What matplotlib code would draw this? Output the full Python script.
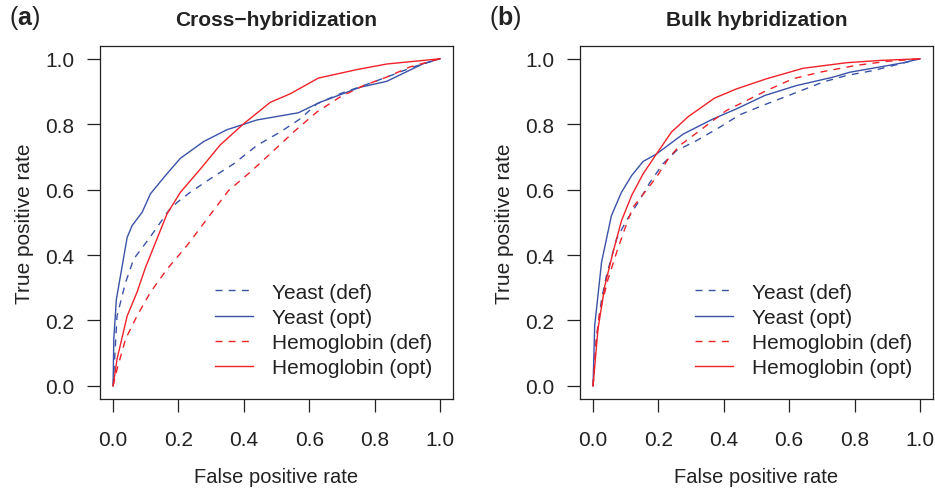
import matplotlib.pyplot as plt

plt.rcParams['font.family'] = ['Liberation Sans', 'DejaVu Sans']
plt.rcParams['mathtext.fontset'] = 'custom'
plt.rcParams['mathtext.rm'] = 'Liberation Sans'
plt.rcParams['mathtext.bf'] = 'Liberation Sans:bold'

# === Daten: (a) Cross-hybridization
a_yeast_def_x = [0, 0.012, 0.038, 0.063, 0.094, 0.124, 0.17, 0.196, 0.236, 0.297, 0.369, 0.44,
                 0.511, 0.572, 0.623, 0.694, 0.766, 0.837, 0.918, 1.0]
a_yeast_def_y = [0, 0.214, 0.316, 0.388, 0.429, 0.47, 0.536, 0.561, 0.592, 0.633, 0.679, 0.735,
                 0.776, 0.816, 0.862, 0.893, 0.918, 0.944, 0.975, 1.0]
a_yeast_opt_x = [0, 0.002, 0.01, 0.043, 0.058, 0.089, 0.114, 0.16, 0.206, 0.277, 0.348, 0.44,
                 0.567, 0.633, 0.756, 0.837, 0.949, 1.0]
a_yeast_opt_y = [0, 0.143, 0.265, 0.454, 0.49, 0.531, 0.587, 0.643, 0.696, 0.747, 0.783, 0.813,
                 0.835, 0.867, 0.913, 0.931, 0.985, 1.0]
a_hemo_def_x = [0, 0.012, 0.038, 0.073, 0.114, 0.165, 0.226, 0.287, 0.353, 0.419, 0.491, 0.552,
                0.623, 0.694, 0.766, 0.837, 0.908, 1.0]
a_hemo_def_y = [0, 0.051, 0.143, 0.214, 0.286, 0.357, 0.429, 0.51, 0.597, 0.653, 0.719, 0.776,
                0.837, 0.883, 0.918, 0.944, 0.975, 1.0]
a_hemo_opt_x = [0, 0.012, 0.043, 0.073, 0.099, 0.134, 0.165, 0.206, 0.267, 0.328, 0.399, 0.481,
                0.542, 0.628, 0.746, 0.837, 1.0]
a_hemo_opt_y = [0, 0.082, 0.214, 0.286, 0.362, 0.449, 0.526, 0.592, 0.663, 0.737, 0.801, 0.867,
                0.893, 0.941, 0.967, 0.984, 1.0]

# === Daten: (b) Bulk hybridization
b_yeast_def_x = [0, 0.01, 0.026, 0.041, 0.072, 0.102, 0.138, 0.174, 0.214, 0.255, 0.317, 0.388,
                 0.449, 0.531, 0.612, 0.704, 0.776, 0.857, 0.929, 1.0]
b_yeast_def_y = [0, 0.143, 0.265, 0.337, 0.449, 0.505, 0.561, 0.622, 0.679, 0.719, 0.75, 0.791,
                 0.829, 0.862, 0.893, 0.929, 0.949, 0.964, 0.982, 1.0]
b_yeast_opt_x = [0, 0.005, 0.026, 0.056, 0.087, 0.118, 0.153, 0.194, 0.276, 0.367, 0.439, 0.526,
                 0.622, 0.735, 0.786, 0.878, 0.95, 1.0]
b_yeast_opt_y = [0, 0.184, 0.378, 0.52, 0.592, 0.643, 0.686, 0.709, 0.77, 0.816, 0.847, 0.888,
                 0.918, 0.944, 0.959, 0.975, 0.988, 1.0]
b_hemo_def_x = [0, 0.01, 0.02, 0.046, 0.072, 0.097, 0.122, 0.158, 0.194, 0.23, 0.265, 0.306,
                0.367, 0.408, 0.469, 0.531, 0.612, 0.694, 0.806, 0.898, 1.0]
b_hemo_def_y = [0, 0.143, 0.224, 0.327, 0.408, 0.48, 0.546, 0.592, 0.638, 0.694, 0.735, 0.765,
                0.811, 0.842, 0.872, 0.903, 0.939, 0.959, 0.98, 0.992, 1.0]
b_hemo_opt_x = [0, 0.015, 0.036, 0.061, 0.087, 0.118, 0.153, 0.194, 0.24, 0.291, 0.372, 0.439,
                0.531, 0.643, 0.776, 0.878, 1.0]
b_hemo_opt_y = [0, 0.173, 0.306, 0.408, 0.505, 0.582, 0.648, 0.709, 0.776, 0.823, 0.88, 0.908,
                0.939, 0.971, 0.988, 0.995, 1.0]

labels = ["Yeast (def)", "Yeast (opt)", "Hemoglobin (def)", "Hemoglobin (opt)"]
ticks = [0.0, 0.2, 0.4, 0.6, 0.8, 1.0]
tick_labels = ["0.0", "0.2", "0.4", "0.6", "0.8", "1.0"]

BLUE = "#3a52a8"
RED = "#ee2229"
TXT = "#222222"
FS = 15

panels = [
    ("a", "Cross\u2212hybridization",
     [(a_yeast_def_x, a_yeast_def_y), (a_yeast_opt_x, a_yeast_opt_y),
      (a_hemo_def_x, a_hemo_def_y), (a_hemo_opt_x, a_hemo_opt_y)], 0.107),
    ("b", "Bulk hybridization",
     [(b_yeast_def_x, b_yeast_def_y), (b_yeast_opt_x, b_yeast_opt_y),
      (b_hemo_def_x, b_hemo_def_y), (b_hemo_opt_x, b_hemo_opt_y)], 0.6203),
]

styles = [(BLUE, True), (BLUE, False), (RED, True), (RED, False)]

fig = plt.figure(figsize=(9.35, 4.89), dpi=100)

for letter, title, series, left in panels:
    ax = fig.add_axes([left, 0.182, 0.3775, 0.7225])
    for (xs, ys), (col, dashed), lab in zip(series, styles, labels):
        line, = ax.plot(xs, ys, color=col, lw=1.0, label=lab)
        if dashed:
            line.set_dashes((5, 4.5))
    ax.set_xlim(-0.04, 1.04)
    ax.set_ylim(-0.04, 1.04)
    ax.set_xticks(ticks)
    ax.set_xticklabels(tick_labels)
    ax.set_yticks(ticks)
    ax.set_yticklabels(tick_labels)
    ax.tick_params(direction='out', length=9.5, width=0.9, labelsize=FS,
                   colors=TXT, labelcolor=TXT)
    ax.tick_params(axis='x', pad=13)
    ax.tick_params(axis='y', pad=9)
    for sp in ax.spines.values():
        sp.set_linewidth(0.9)
        sp.set_color(TXT)
    ax.set_xlabel("False positive rate", fontsize=14.5, color=TXT, labelpad=13)
    ax.set_ylabel("True positive rate", fontsize=FS, color=TXT, labelpad=8)
    ax.set_title(title, fontsize=FS, fontweight='bold', color=TXT, pad=15)
    fig.text(left - 0.097, 0.963, r"($\mathbf{" + letter + r"}$)", fontsize=18,
             color=TXT, ha='left', va='center')
    ax.legend(loc='center left', bbox_to_anchor=(0.326, 0.195), frameon=False,
              fontsize=FS, handlelength=1.8, handletextpad=0.95, labelspacing=0.3,
              borderpad=0, borderaxespad=0, labelcolor=TXT)

fig.savefig("out.png", dpi=100)
